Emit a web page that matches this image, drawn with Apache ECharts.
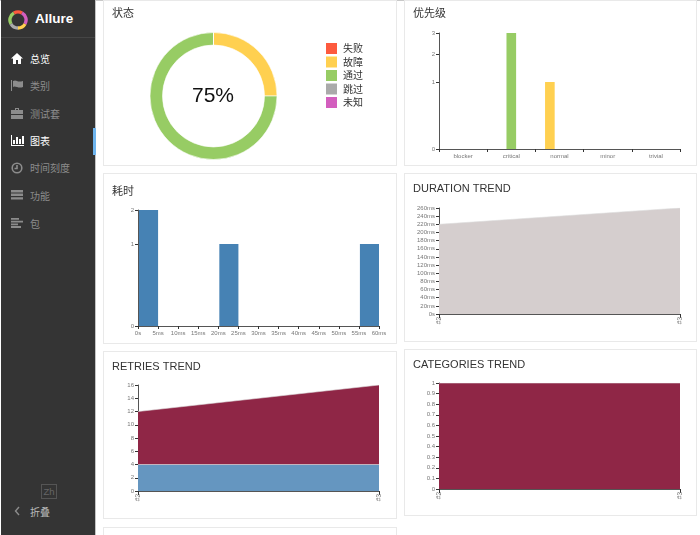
<!DOCTYPE html>
<html>
<head>
<meta charset="utf-8">
<title>Allure</title>
<script src="https://cdn.jsdelivr.net/npm/echarts@6/dist/echarts.min.js"></script>
<style>
html,body{margin:0;padding:0;width:700px;height:535px;overflow:hidden;background:#fff;font-family:"Liberation Sans","Noto Sans CJK SC",sans-serif;}
#topline{position:absolute;left:0;top:0;width:700px;height:1px;background:#c8c8c8;}
#side{position:absolute;left:1px;top:0;width:94px;height:535px;background:#343434;border-right:1px solid #c4c4c4;}
#brand{position:absolute;left:0;top:0;width:94px;height:37px;border-bottom:1px solid #454545;}
#brand b{position:absolute;left:34px;top:11px;font-size:13.5px;color:#fff;}
#brand svg{position:absolute;left:7px;top:10px;}
.item{position:absolute;left:0;width:94px;height:27px;line-height:27px;font-size:10px;color:#8c8c8c;font-family:"Noto Sans CJK SC",sans-serif;}
.item span{position:absolute;left:29px;top:0;}
.item svg{position:absolute;left:10px;top:8px;}
.item.on{color:#fff;}
#mark{position:absolute;left:92px;top:128px;width:3px;height:27px;background:#6fb5ee;}
#lang{position:absolute;left:40px;top:484px;width:14px;height:13px;border:1px solid #555;color:#666;font-size:9.5px;line-height:13px;text-align:center;}
.card{position:absolute;background:#fff;border:1px solid #e9e9e9;box-sizing:border-box;}
</style>
</head>
<body>
<div id="topline"></div>
<div id="side">
	<div id="brand">
		<svg width="20" height="20" viewBox="0 0 20 20" fill="none" stroke-width="3.4">
			<path d="M3 14A8 8 0 0 1 6 3" stroke="#97cc64"/>
			<path d="M6 3A8 8 0 0 1 14 3" stroke="#fd5a3e"/>
			<path d="M14 3A8 8 0 0 1 17 14" stroke="#d35ebe"/>
			<path d="M17 14A8 8 0 0 1 10 18" stroke="#ffd050"/>
			<path d="M10 18A8 8 0 0 1 3 14" stroke="#aaa"/>
		</svg>
		<b>Allure</b>
	</div>
	<div class="item on" style="top:45px"><svg width="12" height="11" viewBox="0 0 12 11" fill="currentColor"><path d="M6 0L12 5.5H10V11H7V7H5V11H2V5.5H0Z"/></svg><span>总览</span></div>
	<div class="item" style="top:72px"><svg width="12" height="11" viewBox="0 0 12 11" fill="currentColor"><path d="M0 0H1V11H0ZM2 1Q4 0 6 1T12 1V7Q9 8 6 7T2 7Z"/></svg><span>类别</span></div>
	<div class="item" style="top:100px"><svg width="12" height="11" viewBox="0 0 12 11" fill="currentColor"><path d="M4 0H8V2H12V6H0V2H4ZM5 1V2H7V1ZM0 7H12V11H0Z"/></svg><span>测试套</span></div>
	<div class="item on" style="top:127px"><svg width="13" height="11" viewBox="0 0 13 11" fill="currentColor"><path d="M0 0H1V10H13V11H0ZM2 5H4V9H2ZM5 2H7V9H5ZM8 4H10V9H8ZM11 1H13V9H11Z"/></svg><span>图表</span></div>
	<div class="item" style="top:154px"><svg width="12" height="12" viewBox="0 0 12 12" fill="none" stroke="currentColor" stroke-width="1.6"><circle cx="6" cy="6" r="4.8"/><path d="M6 3V6.5H3.5"/></svg><span>时间刻度</span></div>
	<div class="item" style="top:182px"><svg width="12" height="10" viewBox="0 0 12 10" fill="currentColor"><path d="M0 0H12V2.4H0ZM0 3.6H12V6H0ZM0 7.2H12V9.6H0Z"/></svg><span>功能</span></div>
	<div class="item" style="top:210px"><svg width="12" height="10" viewBox="0 0 12 10" fill="currentColor"><path d="M0 0H8V1.8H0ZM0 2.7H12V4.5H0ZM0 5.4H7V7.2H0ZM0 8.1H10V9.9H0Z"/></svg><span>包</span></div>
	<div id="mark"></div>
	<div id="lang">Zh</div>
	<div class="item" style="top:498px"><svg width="7" height="10" viewBox="0 0 7 10" fill="none" stroke="currentColor" stroke-width="1.4" style="left:13px"><path d="M5 1L1.5 5L5 9"/></svg><span style="color:#bbb">折叠</span></div>
</div>

<div class="card" style="left:103px;top:0;width:294px;height:166px"><div id="status" style="width:292px;height:164px"></div></div>
<div class="card" style="left:404px;top:0;width:293px;height:166px"><div id="severity" style="width:291px;height:164px"></div></div>
<div class="card" style="left:103px;top:173px;width:294px;height:171px"><div id="duration" style="width:292px;height:169px"></div></div>
<div class="card" style="left:404px;top:173px;width:293px;height:169px"><div id="durationTrend" style="width:291px;height:167px"></div></div>
<div class="card" style="left:103px;top:351px;width:294px;height:168px"><div id="retriesTrend" style="width:292px;height:166px"></div></div>
<div class="card" style="left:404px;top:349px;width:293px;height:167px"><div id="categoriesTrend" style="width:291px;height:165px"></div></div>
<div class="card" style="left:103px;top:527px;width:294px;height:20px"></div>

<script>
var statusNames = ['失败', '故障', '通过', '跳过', '未知'];
var statusColors = ['#fd5a3e', '#ffd050', '#97cc64', '#aaaaaa', '#d35ebe'];
var statusCounts = [0, 1, 3, 0, 0];

var severityNames = ['blocker', 'critical', 'normal', 'minor', 'trivial'];
var severityFailed = [0, 0, 0, 0, 0];
var severityBroken = [0, 0, 1, 0, 0];
var severityPassed = [0, 3, 0, 0, 0];
var severitySkipped = [0, 0, 0, 0, 0];
var severityUnknown = [0, 0, 0, 0, 0];
var severityTicks = [0, 1, 2, 3];

var durationStart = [0, 20, 55];
var durationEnd = [5, 25, 60];
var durationCount = [2, 1, 1];
var durationTicks = [0, 1, 2];

var builds = ['#2', '#3'];
var durationTrendMs = [220, 260];
var retriesRun = [4, 4];
var retriesRetried = [8, 12];
var categoriesProduct = [1, 1];

var axisColor = '#555';
var labelColor = '#777';
var FONT = '"Liberation Sans", "Noto Sans CJK SC", sans-serif';

function cardTitle(text, top) {
	return {
		text: text, left: 8, top: top, padding: 0,
		textStyle: { fontSize: 11, fontWeight: 'normal', color: '#333', fontFamily: FONT }
	};
}

function axisBase(size) {
	return {
		axisLine: { show: true, lineStyle: { color: axisColor, width: 1 } },
		axisTick: { show: true, length: 3, lineStyle: { color: '#333', width: 1 } },
		axisLabel: { fontSize: size || 6, color: labelColor, margin: 4, fontFamily: FONT },
		splitLine: { show: false }
	};
}

// 根号比例尺：值先开方再画，刻度显示原值
function sqrtAxis(ticks) {
	var base = axisBase(6);
	var pos = ticks.map(Math.sqrt);
	base.type = 'value';
	base.min = 0;
	base.max = pos[pos.length - 1];
	base.axisTick.customValues = pos;
	base.axisLabel.customValues = pos;
	base.axisLabel.formatter = function (v) { return Math.round(v * v); };
	return base;
}

function trendXAxis() {
	var base = axisBase(6.5);
	base.type = 'category';
	base.data = builds;
	base.boundaryGap = false;
	base.axisTick.length = 4;
	base.axisLabel.rotate = 90;
	base.axisLabel.margin = 3;
	base.axisLabel.showMinLabel = true;
	base.axisLabel.showMaxLabel = true;
	base.axisLabel.interval = 0;
	return base;
}

function trendYAxis(max, interval, fmt) {
	var base = axisBase(6);
	base.type = 'value';
	base.min = 0;
	base.max = max;
	base.interval = interval;
	if (fmt) base.axisLabel.formatter = fmt;
	return base;
}

function areaSeries(name, data, color, stack) {
	return {
		name: name, type: 'line', data: data, stack: stack, symbol: 'none', silent: true,
		lineStyle: { width: 0.6, color: '#ddd' },
		areaStyle: { color: color, opacity: 1 }
	};
}

// 状态
echarts.init(document.getElementById('status')).setOption({
	animation: false,
	title: cardTitle('状态', 7),
	legend: {
		orient: 'vertical', left: 220, top: 40, padding: 0, icon: 'rect',
		itemWidth: 13, itemHeight: 13, itemGap: -1.5,
		textStyle: { fontSize: 10, lineHeight: 13, color: '#333', fontFamily: '"Noto Sans CJK SC", sans-serif' },
		data: statusNames
	},
	series: [{
		type: 'pie', radius: [51, 63.5], center: [109.5, 95], startAngle: 90, clockwise: true,
		label: { show: false }, silent: true,
		itemStyle: { borderColor: '#fff', borderWidth: 0.6 },
		data: statusNames.map(function (n, i) {
			return { name: n, value: statusCounts[i], itemStyle: { color: statusColors[i] } };
		})
	}],
	graphic: [{
		type: 'text', left: 88, top: 85,
		style: { text: Math.round(statusCounts[2] / 4 * 100) + '%', fontSize: 21, fill: '#111', fontFamily: FONT }
	}]
});

// 优先级
var severitySeries = [severityFailed, severityBroken, severityPassed, severitySkipped, severityUnknown];
var severityX = axisBase(6);
severityX.type = 'category';
severityX.data = severityNames;
severityX.axisLabel.interval = 0;
severityX.axisTick.alignWithLabel = false;
echarts.init(document.getElementById('severity')).setOption({
	animation: false,
	title: cardTitle('优先级', 7),
	grid: { left: 34, top: 32, width: 241, height: 116 },
	xAxis: severityX,
	yAxis: sqrtAxis(severityTicks),
	series: severitySeries.map(function (vals, i) {
		return {
			name: statusNames[i], type: 'bar', barGap: 0, barCategoryGap: 0, silent: true,
			itemStyle: { color: statusColors[i] },
			data: vals.map(Math.sqrt)
		};
	})
});

// 耗时
var durationX = axisBase(6);
durationX.type = 'value';
durationX.min = 0;
durationX.max = 60;
durationX.interval = 5;
durationX.axisLabel.formatter = function (v) { return v === 0 ? '0s' : v + 'ms'; };
echarts.init(document.getElementById('duration')).setOption({
	animation: false,
	title: cardTitle('耗时', 12),
	grid: { left: 34, top: 36, width: 241, height: 116 },
	xAxis: durationX,
	yAxis: sqrtAxis(durationTicks),
	series: [{
		type: 'custom', silent: true,
		encode: { x: [0, 1], y: 2 },
		data: durationStart.map(function (s, i) {
			return [s, durationEnd[i], Math.sqrt(durationCount[i])];
		}),
		renderItem: function (params, api) {
			var a = api.coord([api.value(0), api.value(2)]);
			var b = api.coord([api.value(1), 0]);
			return {
				type: 'rect',
				shape: { x: a[0] + 1, y: a[1], width: b[0] - a[0] - 1, height: b[1] - a[1] },
				style: { fill: '#4682b4' }
			};
		}
	}]
});

// DURATION TREND
echarts.init(document.getElementById('durationTrend')).setOption({
	animation: false,
	title: cardTitle('DURATION TREND', 9),
	grid: { left: 34, top: 34, width: 241, height: 106 },
	xAxis: trendXAxis(),
	yAxis: trendYAxis(260, 20, function (v) { return v === 0 ? '0s' : v + 'ms'; }),
	series: [areaSeries('duration', durationTrendMs, '#d5cece')]
});

// RETRIES TREND
echarts.init(document.getElementById('retriesTrend')).setOption({
	animation: false,
	title: cardTitle('RETRIES TREND', 9),
	grid: { left: 34, top: 33, width: 241, height: 106 },
	xAxis: trendXAxis(),
	yAxis: trendYAxis(16, 2),
	series: [
		areaSeries('run', retriesRun, '#6596c0', 'retries'),
		areaSeries('retries', retriesRetried, '#8f2646', 'retries')
	]
});

// CATEGORIES TREND
echarts.init(document.getElementById('categoriesTrend')).setOption({
	animation: false,
	title: cardTitle('CATEGORIES TREND', 9),
	grid: { left: 34, top: 33, width: 241, height: 106 },
	xAxis: trendXAxis(),
	yAxis: trendYAxis(1, 0.1),
	series: [areaSeries('product', categoriesProduct, '#8f2646')]
});
</script>
</body>
</html>
